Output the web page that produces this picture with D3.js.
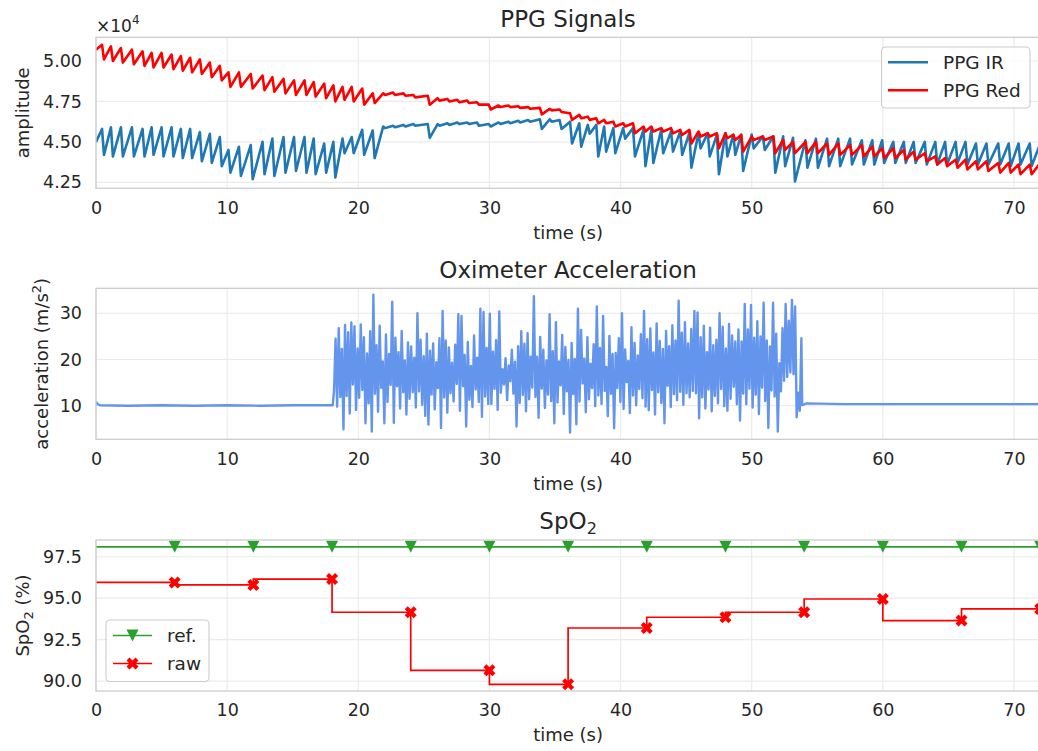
<!DOCTYPE html>
<html lang="en">

<head>
    <meta charset="UTF-8">
    <title>PPG, acceleration and SpO2</title>
    <script src="https://cdn.jsdelivr.net/npm/d3@7"></script>
    <style type="text/css">
        body {
            margin: 0;
            background: #fff;
        }

        svg {
            display: block;
            font-family: 'DejaVu Sans', sans-serif;
        }
    </style>
</head>

<body>
    <div id="figure"></div>
</body>
<script>
    // ---------- data ----------
    // PPG polyline vertices: time (s), amplitude in units of 1e4
    var ppgTime = [0,
        0.46, 0.61, 1.14, 1.29, 1.90, 2.05, 2.74, 2.89, 3.55, 3.70, 4.24, 4.39, 5.00, 5.15, 5.76, 5.91, 6.47, 6.62, 7.18, 7.33, 7.92, 8.07, 8.68, 8.83, 9.44, 9.59,
        10.10, 10.25, 10.90, 11.05, 11.80, 11.95, 12.70, 12.85, 13.45, 13.60, 14.30, 14.45, 15.10, 15.25, 15.90, 16.05, 16.60, 16.75, 17.40, 17.55, 18.10, 18.25, 18.80, 18.95, 19.50, 19.65, 20.30, 20.45, 21.10, 21.25,
        21.90, 22.05, 22.65, 22.80, 23.45, 23.60, 24.20, 24.35, 25.30, 25.45, 26.05, 26.20, 26.80, 26.95, 27.55, 27.70, 28.30, 28.45, 29.05, 29.20, 29.95, 30.10, 30.70, 30.85, 31.45, 31.60, 32.20, 32.35, 32.95, 33.10, 33.85, 34.00, 34.60, 34.75, 35.35, 35.50,
        36.15, 36.30, 36.85, 37.00, 37.50, 37.65, 38.15, 38.30, 38.75, 38.90, 39.45, 39.60, 40.20, 40.35, 40.95, 41.10, 41.75, 41.90, 42.35, 42.50, 43.10, 43.25, 43.85, 44.00, 44.55, 44.70, 45.25, 45.40, 45.95, 46.10, 46.65, 46.80, 47.35, 47.50, 48.00, 48.15, 48.60, 48.75, 49.20, 49.35, 50.00, 50.15, 50.85, 51.00, 51.65, 51.80, 52.40, 52.55, 53.15, 53.30,
        54.10, 54.25, 54.90, 55.05, 55.75, 55.90, 56.60, 56.75, 57.50, 57.65, 58.40, 58.55, 59.20, 59.35, 59.95, 60.10, 60.80, 60.95, 61.60, 61.75, 62.35, 62.50, 63.20, 63.35, 64.00, 64.15, 64.75, 64.90, 65.55, 65.70, 66.30, 66.45, 67.10, 67.25, 67.90, 68.05, 68.80, 68.95, 69.60, 69.75, 70.35, 70.50, 71.20, 71.35, 72.00, 72.15];

    var ppgIR = [4.50,
        4.58, 4.42, 4.59, 4.41, 4.59, 4.41, 4.59, 4.41, 4.58, 4.41, 4.59, 4.42, 4.59, 4.41, 4.59, 4.41, 4.58, 4.40, 4.58, 4.40, 4.56, 4.38, 4.55, 4.37, 4.53, 4.35,
        4.45, 4.31, 4.47, 4.29, 4.48, 4.27, 4.50, 4.30, 4.52, 4.29, 4.53, 4.31, 4.53, 4.32, 4.53, 4.31, 4.52, 4.30, 4.49, 4.31, 4.50, 4.28, 4.52, 4.43, 4.53, 4.43, 4.575, 4.42, 4.57, 4.40,
        4.595, 4.585, 4.60, 4.59, 4.605, 4.595, 4.61, 4.60, 4.61, 4.525, 4.61, 4.60, 4.615, 4.605, 4.62, 4.61, 4.62, 4.61, 4.62, 4.60, 4.61, 4.595, 4.62, 4.61, 4.625, 4.615, 4.63, 4.62, 4.635, 4.625, 4.64, 4.58, 4.64, 4.625, 4.635, 4.58,
        4.625, 4.49, 4.615, 4.47, 4.605, 4.55, 4.605, 4.41, 4.595, 4.44, 4.585, 4.43, 4.585, 4.52, 4.585, 4.41, 4.575, 4.35, 4.575, 4.37, 4.575, 4.43, 4.565, 4.44, 4.565, 4.42, 4.555, 4.34, 4.555, 4.46, 4.555, 4.41, 4.545, 4.30, 4.555, 4.41, 4.545, 4.42, 4.545, 4.32, 4.545, 4.46, 4.535, 4.45, 4.535, 4.31, 4.535, 4.35, 4.525, 4.255,
        4.51, 4.34, 4.52, 4.34, 4.52, 4.35, 4.52, 4.35, 4.52, 4.36, 4.51, 4.36, 4.51, 4.36, 4.51, 4.37, 4.50, 4.37, 4.50, 4.37, 4.50, 4.37, 4.50, 4.36, 4.50, 4.36, 4.50, 4.36, 4.50, 4.37, 4.50, 4.36, 4.49, 4.36, 4.49, 4.36, 4.49, 4.36, 4.49, 4.35, 4.49, 4.36, 4.49, 4.35, 4.49, 4.36];

    var ppgRed = [5.07,
        5.10, 5.01, 5.09, 5.00, 5.08, 4.99, 5.07, 4.98, 5.06, 4.97, 5.05, 4.96, 5.05, 4.96, 5.04, 4.95, 5.03, 4.94, 5.02, 4.93, 5.01, 4.92, 4.99, 4.90, 4.97, 4.88,
        4.93, 4.84, 4.93, 4.84, 4.92, 4.83, 4.91, 4.82, 4.90, 4.81, 4.89, 4.80, 4.88, 4.79, 4.88, 4.79, 4.87, 4.78, 4.86, 4.77, 4.85, 4.75, 4.84, 4.76, 4.84, 4.75, 4.83, 4.73, 4.80, 4.74,
        4.80, 4.79, 4.805, 4.79, 4.80, 4.785, 4.79, 4.775, 4.785, 4.73, 4.77, 4.755, 4.765, 4.75, 4.76, 4.745, 4.755, 4.74, 4.745, 4.73, 4.73, 4.70, 4.725, 4.715, 4.725, 4.715, 4.72, 4.71, 4.715, 4.705, 4.71, 4.67, 4.705, 4.695, 4.70, 4.685,
        4.677, 4.636, 4.667, 4.646, 4.656, 4.636, 4.646, 4.615, 4.636, 4.615, 4.625, 4.595, 4.615, 4.595, 4.615, 4.553, 4.595, 4.564, 4.595, 4.564, 4.585, 4.564, 4.585, 4.553, 4.574, 4.543, 4.574, 4.49, 4.564, 4.533, 4.553, 4.533, 4.553, 4.46, 4.553, 4.523, 4.543, 4.512, 4.543, 4.44, 4.533, 4.512, 4.533, 4.512, 4.533, 4.43, 4.512, 4.45, 4.50, 4.43,
        4.50, 4.43, 4.50, 4.43, 4.49, 4.42, 4.49, 4.42, 4.48, 4.42, 4.48, 4.41, 4.47, 4.41, 4.46, 4.40, 4.46, 4.40, 4.45, 4.39, 4.44, 4.39, 4.43, 4.38, 4.41, 4.36, 4.40, 4.35, 4.39, 4.34, 4.39, 4.33, 4.38, 4.33, 4.38, 4.32, 4.37, 4.31, 4.37, 4.31, 4.36, 4.30, 4.36, 4.30, 4.37, 4.31];

    // oximeter acceleration (m/s^2): quiet parts as vertices, the motion burst sampled every 0.12 s
    var accPreTime = [0, 0.1, 0.3, 2.5, 5.0, 7.5, 10.0, 12.5, 15.0, 18.05];
    var accPreVal = [10.9, 10.4, 10.1, 10.0, 10.1, 10.0, 10.1, 10.0, 10.1, 10.1];
    var accBurstStart = 18.15, accBurstStep = 0.12;
    var accBurst = [
        13.2, 24.5, 9.8, 26.8, 11.9, 22.3, 4.9, 27.5, 12.1, 25.9, 8.3, 28.0, 14.6, 27.2, 9.1, 22.4, 11.7, 27.6, 13.4, 24.8, 6.2, 21.3, 10.5, 26.1, 4.4,
        34.0, 12.6, 23.1, 8.7, 27.3, 13.9, 19.6, 6.2, 25.4, 10.8, 21.2, 14.5, 32.5, 6.3, 24.7, 14.2, 21.6, 9.4, 26.2, 12.9, 19.8, 8.1, 23.7, 11.5, 22.8,
        12.9, 20.4, 9.6, 30.0, 13.1, 24.3, 10.2, 20.7, 7.8, 25.6, 5.9, 21.9, 12.4, 23.5, 9.2, 19.4, 13.8, 24.6, 5.2, 30.5, 11.8, 24.1, 8.5, 22.6, 12.7,
        19.3, 10.9, 23.2, 14.7, 29.8, 8.9, 29.4, 14.2, 21.0, 5.5, 23.8, 11.3, 18.6, 9.7, 25.2, 13.5, 20.4, 10.8, 31.0, 7.6, 30.3, 12.0, 22.5, 10.4, 29.9,
        10.4, 21.7, 13.6, 24.2, 9.1, 30.4, 12.8, 17.9, 14.6, 20.3, 11.2, 18.7, 15.3, 22.1, 12.6, 19.5, 5.5, 22.9, 10.6, 26.1, 12.3, 23.4, 8.8, 25.7, 11.4,
        20.6, 13.9, 33.7, 11.9, 20.6, 7.4, 24.9, 13.7, 22.1, 9.5, 19.8, 12.4, 29.8, 11.0, 21.8, 6.2, 28.1, 10.7, 19.6, 14.4, 25.3, 8.2, 22.7, 13.1, 19.9,
        4.2, 23.6, 12.5, 20.1, 6.0, 31.0, 10.9, 26.4, 14.8, 20.2, 8.6, 24.8, 11.4, 19.1, 13.8, 23.3, 9.9, 31.5, 12.2, 22.5, 10.4, 29.4, 13.2, 18.4, 7.7,
        25.1, 12.6, 21.2, 5.1, 21.4, 13.8, 24.6, 10.8, 30.0, 9.3, 22.2, 15.1, 19.7, 8.4, 27.0, 12.2, 23.6, 10.1, 20.9, 13.6, 25.5, 11.6, 30.5, 9.8, 24.4,
        9.0, 26.7, 13.4, 21.5, 8.1, 27.8, 12.9, 24.0, 10.6, 22.3, 6.2, 26.2, 14.3, 22.9, 9.7, 27.4, 12.5, 24.1, 11.2, 32.7, 13.0, 25.8, 10.2, 28.1, 12.7,
        23.5, 11.8, 26.6, 13.2, 30.5, 12.7, 30.2, 7.3, 24.8, 11.8, 27.3, 9.4, 21.6, 13.5, 26.9, 8.8, 23.1, 12.1, 24.3, 10.5, 30.0, 13.6, 27.1, 9.9, 22.4,
        8.9, 27.7, 11.5, 25.2, 14.1, 23.9, 10.3, 26.5, 6.8, 23.9, 12.6, 32.0, 10.3, 26.5, 13.7, 31.8, 9.6, 24.7, 12.4, 28.3, 8.2, 25.0, 13.9, 32.3, 11.0,
        24.1, 5.2, 22.8, 13.3, 32.3, 12.0, 25.6, 4.4, 19.2, 13.1, 26.8, 15.4, 32.0, 16.2, 28.4, 17.2, 32.9, 16.8, 31.5, 7.5, 12.8, 8.9, 24.6];
    var accPostTime = [53.85, 54.0, 54.2, 57, 61, 65, 69, 72];
    var accPostVal = [10.1, 10.3, 10.5, 10.35, 10.35, 10.35, 10.35, 10.35];

    // SpO2 (%), one estimate every 6 s
    var spo2Time = [0, 6, 12, 18, 24, 30, 36, 42, 48, 54, 60, 66, 72];
    var spo2Ref = [98.1, 98.1, 98.1, 98.1, 98.1, 98.1, 98.1, 98.1, 98.1, 98.1, 98.1, 98.1, 98.1];
    var spo2Raw = [95.95, 95.95, 95.8, 96.15, 94.15, 90.65, 89.8, 93.2, 93.85, 94.15, 94.95, 93.65, 94.35];

    // axis ticks
    var xTicks = [0, 10, 20, 30, 40, 50, 60, 70];
    var ppgTicks = [4.25, 4.50, 4.75, 5.00];
    var accTicks = [10, 20, 30];
    var spo2Ticks = [90.0, 92.5, 95.0, 97.5];

    // ---------- drawing ----------
    var textColor = "#262626", gridColor = "#ebebeb", spineColor = "#cccccc";

    var svg = d3.select("#figure").append("svg")
        .attr("width", 1038)
        .attr("height", 751)
        .style("background-color", "#fff");

    var x = d3.scaleLinear().domain([0, 72]).range([96, 1040.2]);
    var xMid = (x.range()[0] + x.range()[1]) / 2;

    function makePanel(id, top, bottom, yDomain, yTicks, yFormat) {
        var y = d3.scaleLinear().domain(yDomain).range([bottom, top]);
        var g = svg.append("g");

        // grid
        g.append("g").selectAll("line").data(xTicks).enter().append("line")
            .attr("x1", function (d) { return x(d) }).attr("x2", function (d) { return x(d) })
            .attr("y1", top).attr("y2", bottom)
            .attr("stroke", gridColor).attr("stroke-width", 1.2);
        g.append("g").selectAll("line").data(yTicks).enter().append("line")
            .attr("x1", x.range()[0]).attr("x2", x.range()[1])
            .attr("y1", function (d) { return y(d) }).attr("y2", function (d) { return y(d) })
            .attr("stroke", gridColor).attr("stroke-width", 1.2);

        // tick labels
        g.append("g")
            .attr("transform", "translate(0," + bottom + ")")
            .call(d3.axisBottom(x).tickValues(xTicks).tickSize(0).tickPadding(13).tickFormat(d3.format("d")))
            .call(function (a) { a.select(".domain").remove() })
            .attr("font-size", 17.5).attr("font-family", null).attr("color", textColor);
        g.append("g")
            .attr("transform", "translate(" + x.range()[0] + ",0)")
            .call(d3.axisLeft(y).tickValues(yTicks).tickSize(0).tickPadding(14).tickFormat(d3.format(yFormat)))
            .call(function (a) { a.select(".domain").remove() })
            .attr("font-size", 17.5).attr("font-family", null).attr("color", textColor);

        svg.append("clipPath").attr("id", id)
            .append("rect")
            .attr("x", x.range()[0]).attr("y", top)
            .attr("width", x.range()[1] - x.range()[0]).attr("height", bottom - top);

        var plot = g.append("g").attr("clip-path", "url(#" + id + ")");
        return { g: g, y: y, plot: plot, top: top, bottom: bottom };
    }

    function frame(p) {
        p.g.append("rect")
            .attr("x", x.range()[0]).attr("y", p.top)
            .attr("width", x.range()[1] - x.range()[0]).attr("height", p.bottom - p.top)
            .attr("fill", "none").attr("stroke", spineColor).attr("stroke-width", 1.3);
    }

    function label(txt, px, py, size, anchor) {
        return svg.append("text")
            .attr("x", px).attr("y", py)
            .attr("font-size", size)
            .attr("fill", textColor)
            .attr("text-anchor", anchor || "middle")
            .text(txt);
    }

    function yLabel(px, py) {
        return svg.append("text")
            .attr("transform", "translate(" + px + "," + py + ") rotate(-90)")
            .attr("font-size", 18)
            .attr("fill", textColor)
            .attr("text-anchor", "middle");
    }

    // ---- panel 1: PPG ----
    var p1 = makePanel("clip1", 37.3, 188.3, [4.213, 5.1465], ppgTicks, ".2f");
    var ppgLine = function (vals) {
        return d3.line()
            .x(function (d, i) { return x(ppgTime[i]) })
            .y(function (d) { return p1.y(d) })(vals);
    };
    p1.plot.append("path").attr("d", ppgLine(ppgIR))
        .attr("fill", "none").attr("stroke", "#1f77b4").attr("stroke-width", 2.6).attr("stroke-linejoin", "round");
    p1.plot.append("path").attr("d", ppgLine(ppgRed))
        .attr("fill", "none").attr("stroke", "#ff0000").attr("stroke-width", 2.6).attr("stroke-linejoin", "round");
    frame(p1);

    label("PPG Signals", xMid, 26.7, 23);
    label("time (s)", xMid, 238.5, 18);
    var off = label("×10", 96, 32, 17, "start");
    off.append("tspan").attr("dy", -8).attr("font-size", 12).text("4");
    yLabel(28.5, (p1.top + p1.bottom) / 2).text("amplitude");

    // legend 1
    var leg1 = svg.append("g");
    leg1.append("rect").attr("x", 881.5).attr("y", 47).attr("width", 148.5).attr("height", 61).attr("rx", 4)
        .attr("fill", "#fff").attr("fill-opacity", 0.8).attr("stroke", spineColor).attr("stroke-width", 1.1);
    [["PPG IR", "#1f77b4", 62.3], ["PPG Red", "#ff0000", 90.2]].forEach(function (e) {
        leg1.append("line").attr("x1", 888).attr("x2", 928).attr("y1", e[2]).attr("y2", e[2])
            .attr("stroke", e[1]).attr("stroke-width", 2.6);
        leg1.append("text").attr("x", 943).attr("y", e[2] + 6.8).attr("font-size", 18.5).attr("fill", textColor).text(e[0]);
    });

    // ---- panel 2: acceleration ----
    var p2 = makePanel("clip2", 288.3, 439.3, [2.73, 35.41], accTicks, "d");
    var accSeries = [];
    accPreTime.forEach(function (t, i) { accSeries.push([t, accPreVal[i]]) });
    accBurst.forEach(function (v, i) { accSeries.push([accBurstStart + i * accBurstStep, v]) });
    accPostTime.forEach(function (t, i) { accSeries.push([t, accPostVal[i]]) });
    p2.plot.append("path")
        .attr("d", d3.line().x(function (d) { return x(d[0]) }).y(function (d) { return p2.y(d[1]) })(accSeries))
        .attr("fill", "none").attr("stroke", "#6495ed").attr("stroke-width", 2.4).attr("stroke-linejoin", "round");
    frame(p2);

    label("Oximeter Acceleration", xMid, 277.7, 23);
    label("time (s)", xMid, 489.5, 18);
    var al = yLabel(48, (p2.top + p2.bottom) / 2).text("acceleration (m/s");
    al.append("tspan").attr("dy", -7).attr("font-size", 13).text("2");
    al.append("tspan").attr("dy", 7).text(")");

    // ---- panel 3: SpO2 ----
    var p3 = makePanel("clip3", 540, 691, [89.40, 98.51], spo2Ticks, ".1f");
    var stepLine = function (vals) {
        return d3.line().curve(d3.curveStepBefore)
            .x(function (d, i) { return x(spo2Time[i]) })
            .y(function (d) { return p3.y(d) })(vals);
    };
    var triDown = "M-6,-6L6,-6L0,6Z";
    var xFilled = "M-3,-6L0,-3L3,-6L6,-3L3,0L6,3L3,6L0,3L-3,6L-6,3L-3,0L-6,-3Z";

    p3.plot.append("path").attr("d", stepLine(spo2Ref))
        .attr("fill", "none").attr("stroke", "#2ca02c").attr("stroke-width", 1.7);
    p3.plot.append("path").attr("d", stepLine(spo2Raw))
        .attr("fill", "none").attr("stroke", "#ff0000").attr("stroke-width", 1.7);
    p3.plot.append("g").selectAll("path").data(spo2Ref.slice(1)).enter().append("path")
        .attr("transform", function (d, i) { return "translate(" + x(spo2Time[i + 1]) + "," + p3.y(d) + ")" })
        .attr("d", triDown).attr("fill", "#2ca02c");
    p3.plot.append("g").selectAll("path").data(spo2Raw.slice(1)).enter().append("path")
        .attr("transform", function (d, i) { return "translate(" + x(spo2Time[i + 1]) + "," + p3.y(d) + ")" })
        .attr("d", xFilled).attr("fill", "#ff0000");
    frame(p3);

    var t3 = label("SpO", xMid, 529, 23);
    t3.append("tspan").attr("dy", 5).attr("font-size", 16).text("2");
    label("time (s)", xMid, 741, 18);
    var sl = yLabel(29, (p3.top + p3.bottom) / 2).text("SpO");
    sl.append("tspan").attr("dy", 4).attr("font-size", 13).text("2");
    sl.append("tspan").attr("dy", -4).text(" (%)");

    // legend 3
    var leg3 = svg.append("g");
    leg3.append("rect").attr("x", 106).attr("y", 620).attr("width", 103).attr("height", 61.5).attr("rx", 4)
        .attr("fill", "#fff").attr("fill-opacity", 0.8).attr("stroke", spineColor).attr("stroke-width", 1.1);
    [["ref.", "#2ca02c", 635.5, triDown], ["raw", "#ff0000", 663.5, xFilled]].forEach(function (e) {
        leg3.append("line").attr("x1", 113).attr("x2", 152).attr("y1", e[2]).attr("y2", e[2])
            .attr("stroke", e[1]).attr("stroke-width", 1.7);
        leg3.append("path").attr("transform", "translate(132.5," + e[2] + ")").attr("d", e[3]).attr("fill", e[1]);
        leg3.append("text").attr("x", 167).attr("y", e[2] + 6.8).attr("font-size", 18.5).attr("fill", textColor).text(e[0]);
    });
</script>

</html>
